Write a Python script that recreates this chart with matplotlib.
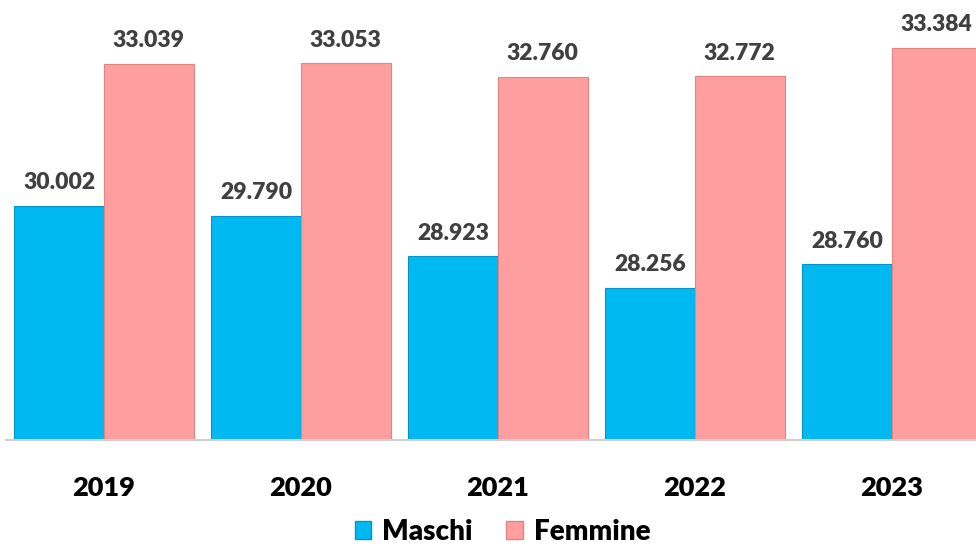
import numpy as np
import matplotlib.pyplot as plt
from matplotlib.patches import Patch

# data
anni = ["2019", "2020", "2021", "2022", "2023"]
maschi = [30002, 29790, 28923, 28256, 28760]
femmine = [33039, 33053, 32760, 32772, 33384]

col_m = "#00B9F1"
col_f = "#FF9E9E"

def fmt(v):
    return f"{v:,}".replace(",", ".")

plt.rcParams['font.family'] = ['Lato', 'DejaVu Sans']

fig = plt.figure(figsize=(9.76, 5.55), dpi=100)
ax = fig.add_axes([5.5 / 976, 1 - 440 / 555, 985 / 976, 440 / 555])

x = np.arange(len(anni))
w = 0.455
bm = ax.bar(x - w / 2, maschi, w, color=col_m, edgecolor="#0794C4", linewidth=0.8, label="Maschi")
bf = ax.bar(x + w / 2, femmine, w, color=col_f, edgecolor="#E08585", linewidth=0.8, label="Femmine")

# value labels
for bars, vals in ((bm, maschi), (bf, femmine)):
    for b, v in zip(bars, vals):
        ax.annotate(fmt(v), (b.get_x() + b.get_width() / 2, v), xytext=(0, 9),
                    textcoords="offset points", ha="center", va="bottom",
                    fontsize=16.5, fontweight="heavy", color="#404040")

ax.set_ylim(25000, 34400)
ax.set_xlim(-0.5, len(anni) - 0.5)
ax.set_yticks([])
ax.set_xticks(x)
ax.set_xticklabels(anni, fontsize=19.5, fontweight="heavy")
ax.tick_params(axis="x", length=0, pad=26)
for s in ("top", "right", "left"):
    ax.spines[s].set_visible(False)
ax.spines["bottom"].set_color("#D0D0D0")
ax.spines["bottom"].set_linewidth(1.5)

handles = [Patch(facecolor=col_m, edgecolor="#0794C4"), Patch(facecolor=col_f, edgecolor="#E08585")]
fig.legend(handles, ["Maschi", "Femmine"], loc="center", bbox_to_anchor=(0.515, 1 - 532 / 555),
           ncol=2, frameon=False, prop={"size": 20, "weight": "heavy"},
           handlelength=0.6, handleheight=0.6, handletextpad=0.4, columnspacing=1.2)

fig.savefig("out.png", dpi=100)
